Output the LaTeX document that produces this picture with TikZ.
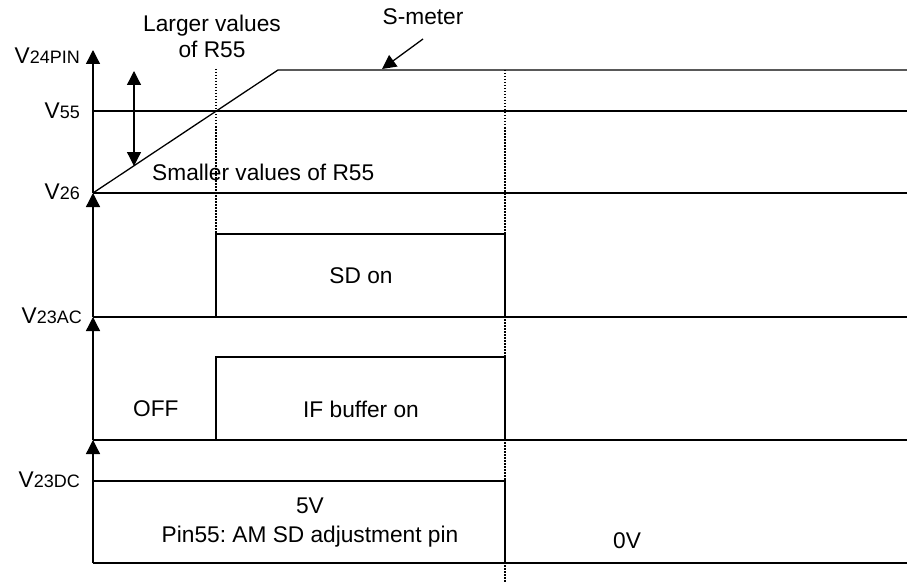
\documentclass[tikz,border=0pt]{standalone}
\usepackage{fontspec}
\setmainfont{Liberation Sans}
\usetikzlibrary{arrows.meta}
\frenchspacing
\begin{document}
\begin{tikzpicture}[x=1pt,y=-1pt,
  wire/.style={line width=1.3pt},
  axis/.style={line width=1.3pt,-{Triangle[width=14pt,length=14pt]}},
  dbl/.style={line width=1.3pt,{Triangle[width=14pt,length=14pt]}-{Triangle[width=14pt,length=14pt]}},
  ptr/.style={line width=1.3pt,-{Triangle[width=14pt,length=14pt]}},
  dots/.style={line width=1.3pt,dash pattern=on 1.5pt off 1.5pt},
  lbl/.style={inner sep=0pt,font=\fontsize{22.7}{26}\selectfont},
  vlbl/.style={inner sep=0pt,anchor=base east,font=\fontsize{22.7}{26}\selectfont}]
\useasboundingbox (0,0) rectangle (907,583);
\newcommand{\sm}[1]{{\fontsize{18}{20}\selectfont #1}}
% coordinates
\coordinate (a0) at (93,50);
\coordinate (a1) at (93,193);
\coordinate (a2) at (93,317);
\coordinate (a3) at (93,440);
\coordinate (a4) at (93,563);
\coordinate (rtop) at (278,70);
\coordinate (r70) at (907,70);
\coordinate (v55l) at (93,111);
\coordinate (v55r) at (907,111);
\coordinate (v26r) at (907,193);
\coordinate (acr) at (907,317);
\coordinate (ifr) at (907,440);
\coordinate (botr) at (907,563);
\coordinate (sd1) at (216,317);
\coordinate (sd2) at (216,234);
\coordinate (sd3) at (505,234);
\coordinate (sd4) at (505,317);
\coordinate (if1) at (216,440);
\coordinate (if2) at (216,357);
\coordinate (if3) at (505,357);
\coordinate (if4) at (505,440);
\coordinate (dc1) at (93,481);
\coordinate (dc2) at (505,481);
\coordinate (dc3) at (505,563);
\coordinate (d1t) at (216,69);
\coordinate (d2t) at (505,70);
\coordinate (d2b) at (505,583);
\coordinate (da) at (134,71);
\coordinate (db) at (134,166);
\coordinate (sa) at (423,39);
\coordinate (sb) at (382,69);
% axes
\draw[axis] (a1) -- (a0);
\draw[axis] (a2) -- (a1);
\draw[axis] (a3) -- (a2);
\draw[axis] (a4) -- (a3);
% S-meter section
\draw[wire] (a1) -- (rtop) -- (r70);
\draw[wire] (v55l) -- (v55r);
\draw[wire] (a1) -- (v26r);
\draw[dots] (d1t) -- (sd2);
\draw[dots] (d2t) -- (d2b);
\draw[dbl] (da) -- (db);
\draw[ptr] (sa) -- (sb);
% SD section
\draw[wire] (sd1) -- (sd2) -- (sd3) -- (sd4);
\draw[wire] (a2) -- (acr);
% IF section
\draw[wire] (if1) -- (if2) -- (if3) -- (if4);
\draw[wire] (a3) -- (ifr);
% DC section
\draw[wire] (dc1) -- (dc2) -- (dc3);
\draw[wire] (a4) -- (botr);
% labels
\node[vlbl] (l24) at (80,64) {V\sm{24PIN}};
\node[vlbl] (l55) at (80,118) {V\sm{55}};
\node[vlbl] (l26) at (80,199) {V\sm{26}};
\node[vlbl] (lac) at (82,323) {V\sm{23AC}};
\node[vlbl] (ldc) at (80,487) {V\sm{23DC}};
\node[lbl,anchor=base] (larger) at (212,32) {Larger values};
\node[lbl,anchor=base] (ofr) at (212,58) {of R55};
\node[lbl,anchor=base] (smeter) at (423,25) {S-meter};
\node[lbl,anchor=base west] (smaller) at (152,180) {Smaller values of R55};
\node[lbl,anchor=base] (sdon) at (361,283) {SD on};
\node[lbl,anchor=base west] (off) at (133,416) {OFF};
\node[lbl,anchor=base] (ifon) at (361,417) {IF buffer on};
\node[lbl,anchor=base] (fivev) at (310,513) {5V};
\node[lbl,anchor=base] (pin) at (310,542) {Pin55: AM SD adjustment pin};
\node[lbl,anchor=base west] (zerov) at (613,548) {0V};
\end{tikzpicture}
\end{document}
